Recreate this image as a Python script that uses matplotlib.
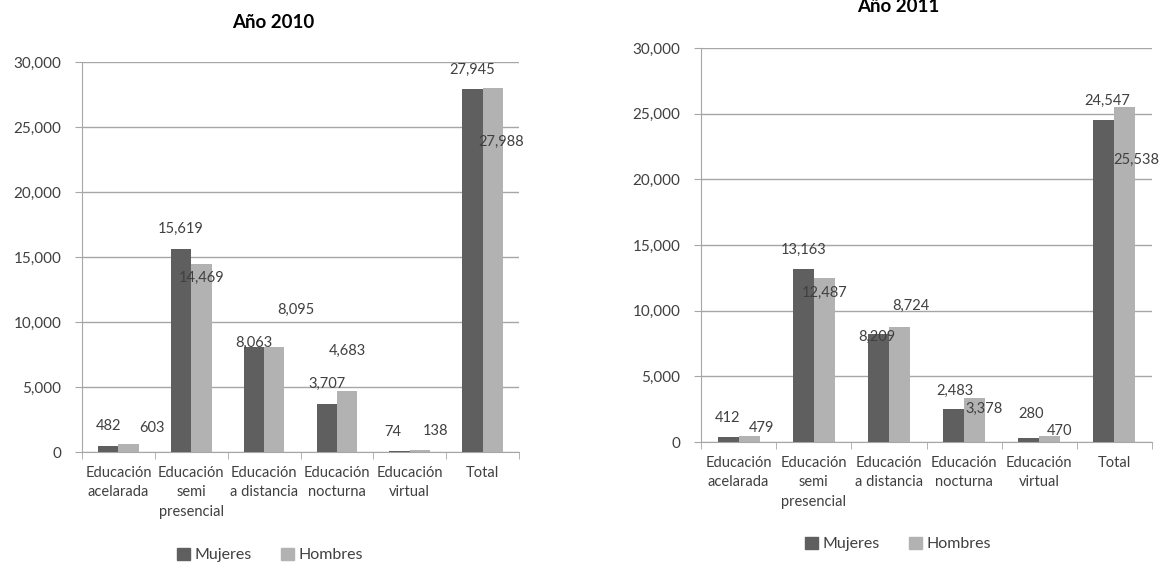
import matplotlib.pyplot as plt
import matplotlib.ticker as mticker
from matplotlib.patches import Patch
import numpy as np

# Datos
categorias = ['Educación\nacelarada', 'Educación\nsemi\npresencial', 'Educación\na distancia',
              'Educación\nnocturna', 'Educación\nvirtual', 'Total']
mujeres_2010 = [482, 15619, 8063, 3707, 74, 27945]
hombres_2010 = [603, 14469, 8095, 4683, 138, 27988]
mujeres_2011 = [412, 13163, 8209, 2483, 280, 24547]
hombres_2011 = [479, 12487, 8724, 3378, 470, 25538]

# Décalage des étiquettes (dx en catégories, dy en unités)
lab_m_2010 = [(0, 1518), (0, 1509), (0, 347), (0, 1498), (-0.1, 1464), (0, 1465)]
lab_h_2010 = [(0.32, 1243), (0, -1084), (0.29, 2802), (0, 3061), (0.22, 1452), (0.11, -4142)]
lab_m_2011 = [(0, 1436), (0, 1443), (-0.02, -184), (0.02, 1441), (0.03, 1872), (0.04, 1458)]
lab_h_2011 = [(0.17, 584), (0, -1145), (0.15, 1656), (0.13, -846), (0.13, 340), (0.15, -4062)]

c_muj = '#5f5f5f'
c_hom = '#b2b2b2'
c_txt = '#404040'
c_grid = '#a6a6a6'
w = 0.28

plt.rcParams['font.family'] = ['Lato', 'DejaVu Sans']

fig = plt.figure(figsize=(11.62, 5.66), dpi=100)
W, H = 1162, 566


def panel(rect, muj, hom, lab_m, lab_h):
    ax = fig.add_axes(rect)
    x = np.arange(len(categorias))
    ax.bar(x - w / 2, muj, w, color=c_muj, zorder=3)
    ax.bar(x + w / 2, hom, w, color=c_hom, zorder=3)
    for i in range(len(x)):
        ax.text(x[i] - w / 2 + lab_m[i][0], muj[i] + lab_m[i][1], f'{muj[i]:,}',
                ha='center', va='center', fontsize=10.5, color=c_txt, zorder=4)
        ax.text(x[i] + w / 2 + lab_h[i][0], hom[i] + lab_h[i][1], f'{hom[i]:,}',
                ha='center', va='center', fontsize=10.5, color=c_txt, zorder=4)
    ax.set_xlim(-0.5, len(x) - 0.5)
    ax.set_ylim(0, 30000)
    ax.set_yticks(range(0, 30001, 5000))
    ax.yaxis.set_major_formatter(mticker.FuncFormatter(lambda v, p: f'{int(v):,}'))
    ax.yaxis.grid(True, color=c_grid, linewidth=1, zorder=0)
    ax.set_xticks(x)
    ax.set_xticklabels(categorias, fontsize=10.5, color=c_txt, linespacing=1.5)
    ax.set_xticks(np.arange(-0.5, len(x), 1), minor=True)
    ax.tick_params(axis='x', which='major', length=0, pad=10)
    ax.tick_params(axis='x', which='minor', length=5, color=c_grid, direction='out')
    ax.tick_params(axis='y', length=5, color=c_grid, labelsize=11, labelcolor=c_txt, pad=10)
    for s in ['top', 'right']:
        ax.spines[s].set_visible(False)
    for s in ['left', 'bottom']:
        ax.spines[s].set_color(c_grid)
    return ax


ax1 = panel([82 / W, 1 - 452 / H, 437 / W, 390 / H], mujeres_2010, hombres_2010, lab_m_2010, lab_h_2010)
ax2 = panel([701 / W, 1 - 442 / H, 451 / W, 394 / H], mujeres_2011, hombres_2011, lab_m_2011, lab_h_2011)

fig.text(273 / W, 1 - 22 / H, 'Año 2010', ha='center', va='center', fontsize=13.5, fontweight='bold')
fig.text(898 / W, 1 - 7 / H, 'Año 2011', ha='center', va='center', fontsize=13.5, fontweight='bold')

handles = [Patch(color=c_muj, label='Mujeres'), Patch(color=c_hom, label='Hombres')]
for cx, cy in [(270, 555), (898, 544)]:
    fig.legend(handles=handles, loc='center', bbox_to_anchor=(cx / W, 1 - cy / H), ncol=2,
               frameon=False, fontsize=11.5, handlelength=0.8, handleheight=0.8,
               handletextpad=0.3, columnspacing=1.8, labelcolor=c_txt)

plt.savefig('out.png')
